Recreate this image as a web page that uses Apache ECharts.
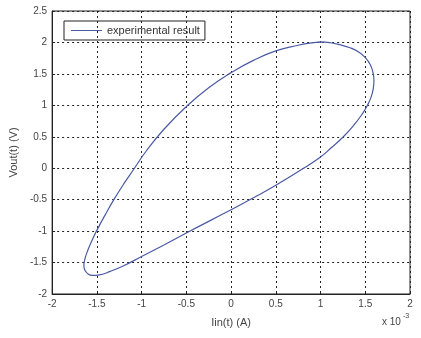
<!DOCTYPE html>
<html>
<head>
<meta charset="utf-8">
<script src="https://cdn.jsdelivr.net/npm/echarts@6/dist/echarts.min.js"></script>
<style>
  html, body { margin: 0; padding: 0; background: #fff; }
  #main { width: 421px; height: 338px; }
</style>
</head>
<body>
<div id="main"></div>
<script>
// current in units of 1e-3 A, voltage in V (closed loop, clockwise from the top)
var iin = [1.0, 1.1, 1.2, 1.33, 1.43, 1.5, 1.555, 1.585, 1.597, 1.59, 1.565, 1.52, 1.46, 1.37, 1.255, 1.12, 1.0, 0.81, 0.5, 0.25, 0, -0.25, -0.5, -0.75, -1.0, -1.2, -1.35, -1.47, -1.55, -1.6, -1.635, -1.645, -1.635, -1.6, -1.555, -1.505, -1.41, -1.31, -1.2, -1.08, -0.95, -0.75, -0.5, -0.25, 0, 0.25, 0.5, 0.75, 0.9, 1.0];
var vout = [2.01, 1.997, 1.97, 1.915, 1.845, 1.76, 1.65, 1.53, 1.4, 1.27, 1.13, 0.99, 0.85, 0.68, 0.5, 0.325, 0.18, 0, -0.27, -0.47, -0.66, -0.845, -1.03, -1.22, -1.405, -1.55, -1.64, -1.695, -1.705, -1.68, -1.62, -1.55, -1.45, -1.3, -1.15, -1.0, -0.75, -0.5, -0.25, 0, 0.27, 0.62, 0.98, 1.28, 1.52, 1.715, 1.865, 1.955, 1.993, 2.01];

var points = iin.map(function (x, i) { return [x, vout[i]]; });

var myChart = echarts.init(document.getElementById('main'));

var font = 'Liberation Sans, Arial, sans-serif';

option = {
    animation: false,
    grid: {
        left: 47, right: 11, top: 11, bottom: 44,
        show: true,
        borderColor: '#222',
        borderWidth: 1
    },
    legend: {
        data: ['experimental result'],
        left: 64,
        top: 21,
        padding: [4, 5, 4, 7],
        borderColor: '#222',
        borderWidth: 1,
        icon: 'path://M0,0L30,0L30,1L0,1Z',
        itemWidth: 31,
        itemHeight: 1.2,
        itemGap: 5,
        textStyle: { fontFamily: font, fontSize: 11, color: '#333', lineHeight: 10 }
    },
    xAxis: {
        type: 'value',
        min: -2, max: 2, interval: 0.5,
        name: 'Iin(t) (A)',
        nameLocation: 'middle',
        nameGap: 23,
        nameTextStyle: { fontFamily: font, fontSize: 11, color: '#444' },
        axisLine: { show: true, onZero: false, lineStyle: { color: '#222' } },
        axisTick: { show: true, inside: true, length: 3, lineStyle: { color: '#222' } },
        axisLabel: { fontFamily: font, fontSize: 10, color: '#444', margin: 5 },
        splitLine: { show: true, lineStyle: { color: '#222', type: [2, 3] } }
    },
    yAxis: {
        type: 'value',
        min: -2, max: 2.5, interval: 0.5,
        name: 'Vout(t) (V)',
        nameLocation: 'middle',
        nameGap: 28,
        nameTextStyle: { fontFamily: font, fontSize: 11, color: '#444' },
        axisLine: { show: true, onZero: false, lineStyle: { color: '#222' } },
        axisTick: { show: true, inside: true, length: 3, lineStyle: { color: '#222' } },
        axisLabel: { fontFamily: font, fontSize: 10, color: '#444', margin: 5 },
        splitLine: { show: true, lineStyle: { color: '#222', type: [2, 3] } }
    },
    graphic: [{
        type: 'text',
        left: 382,
        top: 317,
        style: { text: 'x 10', fontFamily: font, fontSize: 10, fill: '#444' }
    }, {
        type: 'text',
        left: 403,
        top: 313,
        style: { text: '-3', fontFamily: font, fontSize: 7, fill: '#444' }
    }],
    series: [{
        name: 'experimental result',
        type: 'line',
        data: points,
        symbol: 'none',
        smooth: 0.5,
        lineStyle: { color: '#4b5aa5', width: 1.2 },
        itemStyle: { color: '#4b5aa5' }
    }]
};

myChart.setOption(option);
</script>
</body>
</html>
